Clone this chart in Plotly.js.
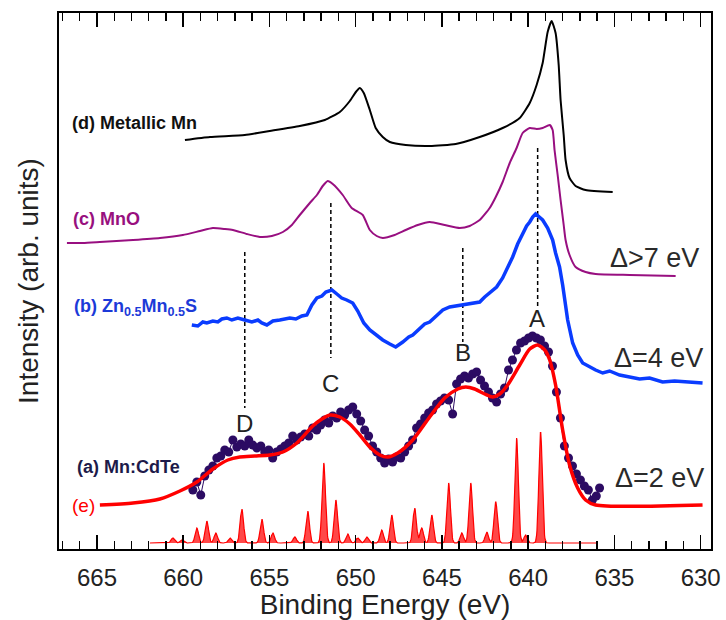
<!DOCTYPE html>
<html><head><meta charset="utf-8">
<script src="https://cdn.plot.ly/plotly-3.0.1.min.js"></script>
<style>html,body{margin:0;padding:0;background:#fff}#chart{width:726px;height:620px}</style>
</head><body><div id="chart"></div>
<script>
// ---- tick labels ----
const tickVals = [665, 660, 655, 650, 645, 640, 635, 630];
const tickText = ['665', '660', '655', '650', '645', '640', '635', '630'];

// ---- (d) Metallic Mn ----
const metalE = [659.90,658.45,656.43,654.98,653.24,651.79,650.92,650.34,649.99,649.76,649.53,649.18,648.84,648.43,648.02,647.10,645.71,644.20,642.81,641.48,640.49,639.91,639.51,639.16,638.87,638.64,638.41,638.23,638.12,637.94,637.83,637.60,637.25,636.67,635.10];
const metalI = [409,412,414,418,423,429,437,448,457,461,456,439,421,412,407,404,403,405,412,421,431,446,464,486,517,528,516,484,449,414,389,371,363,359,357];

// ---- (c) MnO ----
const mnoE = [666.74,665.81,664.83,662.91,661.35,660.02,659.03,658.28,657.58,657.12,656.31,655.56,654.86,654.22,653.70,653.24,652.66,652.25,651.91,651.62,651.33,650.75,650.23,649.59,649.18,648.78,648.43,647.74,647.10,646.40,645.71,644.84,643.97,643.39,642.81,642.23,641.88,641.48,641.07,640.67,640.32,639.91,639.51,639.16,638.75,638.58,638.47,638.29,638.12,637.94,637.83,637.60,637.25,636.67,636.09,634.12,631.45];
const mnoI = [306,306,307,309,311,314,318,321,320,319,315,312,313,317,324,334,346,354,363,368,365,354,341,334,319,313,311,314,319,324,327,324,321,323,329,341,352,367,386,401,416,421,420,421,424,419,399,374,349,324,309,294,282,277,275,274,273];

// ---- (b) Zn0.5Mn0.5S ----
const znsE = [659.50,659.15,658.86,658.63,658.28,657.99,657.76,657.47,657.18,656.83,656.43,656.02,655.67,655.44,655.15,654.80,654.40,654.11,653.82,653.47,653.12,652.83,652.54,652.25,651.96,651.73,651.38,651.09,650.81,650.52,650.17,649.88,649.53,649.18,648.84,648.43,648.02,647.68,647.27,646.92,646.69,646.29,646.00,645.71,645.30,644.95,644.55,644.20,643.79,643.39,642.81,642.52,642.23,641.83,641.48,641.19,640.90,640.61,640.32,640.09,639.91,639.74,639.57,639.33,639.16,638.87,638.58,638.41,638.18,638.00,637.89,637.71,637.42,637.13,636.84,636.44,636.09,635.68,635.28,634.70,634.12,633.54,632.96,632.21,631.51,630.64,629.89];
const znsI = [224,223,227,226,228,227,230,231,229,231,229,227,229,226,224,228,229,230,231,230,233,234,244,251,253,257,259,255,251,249,246,238,226,219,214,209,205,202,207,212,214,221,225,227,234,239,242,243,244,246,247,252,256,262,271,281,292,305,316,323,327,332,335,332,329,321,309,296,282,264,249,229,206,194,186,182,179,176,178,174,172,170,171,167,168,167,166];

// ---- (a) Mn:CdTe measured points ----
const cdteE = [659.44,659.21,658.98,658.75,658.51,658.28,658.05,657.82,657.59,657.36,657.12,656.89,656.66,656.43,656.20,655.97,655.73,655.50,655.27,655.04,654.81,654.58,654.34,654.11,653.88,653.65,653.42,653.19,652.95,652.72,652.49,652.26,652.03,651.80,651.56,651.33,651.10,650.87,650.64,650.41,650.17,649.94,649.71,649.48,649.25,649.02,648.78,648.55,648.32,648.09,647.86,647.63,647.39,647.16,646.93,646.70,646.47,646.24,646.00,645.77,645.54,645.31,645.08,644.85,644.61,644.38,644.15,643.92,643.69,643.46,643.22,642.99,642.76,642.53,642.30,642.07,641.83,641.60,641.37,641.14,640.91,640.68,640.44,640.21,639.98,639.75,639.52,639.29,639.05,638.82,638.59,638.36,638.13,637.90,637.66,637.43,637.20,636.97,636.74,636.51,636.28,636.05,635.86];
const cdteI = [59,67,54,73,79,83,91,93,99,97,109,102,105,103,109,104,101,103,97,99,91,97,100,103,106,113,109,112,115,113,121,119,124,129,126,133,131,137,134,139,142,135,128,119,113,103,97,91,86,90,87,92,91,97,103,109,121,125,131,136,139,145,148,151,149,135,165,170,173,171,175,177,169,163,157,151,147,155,161,179,189,199,206,208,211,213,211,209,203,197,183,157,131,103,91,83,75,69,63,59,49,53,61];

// ---- (e) fit curve ----
const fitE = [664.83,662.91,661.35,660.19,659.21,658.28,657.41,656.72,655.85,654.98,654.22,653.41,652.49,651.96,651.50,650.92,650.34,649.76,649.18,648.60,648.14,647.56,646.69,645.71,644.84,644.08,643.62,643.10,642.52,642.06,641.65,641.19,640.49,639.91,639.45,639.04,638.75,638.41,638.00,637.60,637.13,636.67,636.09,629.89];
const fitI = [44,46,50,58,67,80,89,92,93,94,97,106,123,130,134,132,125,114,102,94,92,96,109,132,151,160,162,160,155,152,155,164,184,200,204,199,189,164,119,84,61,49,44,44];

// ---- (e) calculated multiplet lines ----
const lineE = [660.60,660.08,659.21,658.63,658.11,657.29,656.60,655.44,654.80,653.53,652.78,651.85,651.15,650.46,649.88,649.36,648.49,647.91,646.58,646.17,645.59,644.61,643.85,643.33,642.40,641.88,640.67,640.15,639.28];
const lineH = [5,3,15,22,10,5,34,24,10,6,32,80,43,9,5,6,13,28,35,15,28,60,10,60,11,41,105,8,111];
const lineBase = 6;
const lineStart = 661.93, lineEnd = 635.97;

// ---- peak guide lines and labels ----
const guideE = [639.45, 643.79, 651.44, 656.43];
const guideTop = [401, 301, 346, 297];
const guideBottom = [243, 207, 191, 141];
const peakNames = ['A', 'B', 'C', 'D'];
const peakNameE = [639.51, 643.79, 651.44, 656.43];
const peakNameI = [231, 197, 166, 126];

// build broadened line spectrum (rendering of the stick data)
const specX = [], specY = [];
const sig = 0.1;
for (let x = lineStart; x >= lineEnd - 1e-9; x -= 0.02) {
  let y = lineBase;
  for (let k = 0; k < lineE.length; k++) {
    const d = (x - lineE[k]) / sig;
    if (Math.abs(d) < 6) y += lineH[k] * Math.exp(-0.5 * d * d);
  }
  specX.push(+x.toFixed(3)); specY.push(y);
}

const traces = [];
traces.push({x: specX, y: specY, mode: 'lines', fill: 'toself', fillcolor: 'rgba(255,40,40,0.85)',
  line: {color: '#ff0000', width: 1.2}, hoverinfo: 'skip'});
for (let k = 0; k < guideE.length; k++) {
  traces.push({x: [guideE[k], guideE[k]], y: [guideTop[k], guideBottom[k]], mode: 'lines',
    line: {color: '#000', width: 1.5, dash: '4px,3px'}, hoverinfo: 'skip'});
}
traces.push({x: metalE, y: metalI, mode: 'lines', line: {color: '#000', width: 2, shape: 'spline', smoothing: 0.5}});
traces.push({x: mnoE, y: mnoI, mode: 'lines', line: {color: '#980f80', width: 2, shape: 'spline', smoothing: 0.5}});
traces.push({x: znsE, y: znsI, mode: 'lines', line: {color: '#0a3cff', width: 3.5}});
traces.push({x: cdteE, y: cdteI, mode: 'lines+markers', line: {color: '#2c0b63', width: 1},
  marker: {color: '#2c0b63', size: 9}});
traces.push({x: fitE, y: fitI, mode: 'lines', line: {color: '#ff0000', width: 3.5, shape: 'spline', smoothing: 0.7}});

const annos = [];
const txt = (x, y, text, opts) => Object.assign({x: x, y: y, xref: 'x', yref: 'y', text: text, showarrow: false,
  xanchor: 'left', yanchor: 'middle'}, opts);
annos.push(txt(666.56, 426, '<b>(d) Metallic Mn</b>', {font: {size: 18, color: '#111'}}));
annos.push(txt(666.51, 330, '<b>(c) MnO</b>', {font: {size: 18, color: '#98107e'}}));
annos.push(txt(666.45, 242, '<b>(b) Zn<sub>0.5</sub>Mn<sub>0.5</sub>S</b>', {font: {size: 18, color: '#1c3ad8'}}));
annos.push(txt(666.27, 82, '<b>(a) Mn:CdTe</b>', {font: {size: 18, color: '#1d1a4a'}}));
annos.push(txt(666.56, 44, '(e)', {font: {size: 19, color: '#ff0000'}}));
annos.push(txt(635.39, 291, 'Δ>7 eV', {font: {size: 27, color: '#2a2a2a'}}));
annos.push(txt(635.16, 191, 'Δ=4 eV', {font: {size: 27, color: '#2a2a2a'}}));
annos.push(txt(635.10, 71, 'Δ=2 eV', {font: {size: 27, color: '#2a2a2a'}}));
for (let k = 0; k < peakNames.length; k++) {
  annos.push({x: peakNameE[k], y: peakNameI[k], xref: 'x', yref: 'y', text: peakNames[k], showarrow: false,
    xanchor: 'center', yanchor: 'middle', font: {size: 24, color: '#222'}});
}

const layout = {
  width: 726, height: 620,
  margin: {l: 59, r: 15, t: 13, b: 71},
  paper_bgcolor: '#fff', plot_bgcolor: '#fff',
  showlegend: false,
  font: {family: 'Liberation Sans, Arial, sans-serif', color: '#222'},
  xaxis: {range: [667.2, 629.4], tickmode: 'array', tickvals: tickVals, ticktext: tickText,
    ticks: 'inside', ticklen: 14, tickwidth: 1.6, tickcolor: '#000', mirror: 'ticks',
    showline: true, linewidth: 2, linecolor: '#000', showgrid: false, zeroline: false,
    tickfont: {size: 24, color: '#222'}, ticklabelstandoff: 6,
    title: {text: 'Binding Energy (eV)', font: {size: 28, color: '#222'}, standoff: 10},
    minor: {tickmode: 'linear', tick0: 630, dtick: 1, ticks: 'inside', ticklen: 8, tickwidth: 1.4,
      tickcolor: '#000', showgrid: false}},
  yaxis: {range: [0, 536], showticklabels: false, ticks: '', showline: true, mirror: true,
    linewidth: 2, linecolor: '#000', showgrid: false, zeroline: false,
    title: {text: 'Intensity (arb. units)', font: {size: 28, color: '#222'}, standoff: 10}},
  annotations: annos
};

Plotly.newPlot('chart', traces, layout, {displayModeBar: false, staticPlot: true});
</script></body></html>
